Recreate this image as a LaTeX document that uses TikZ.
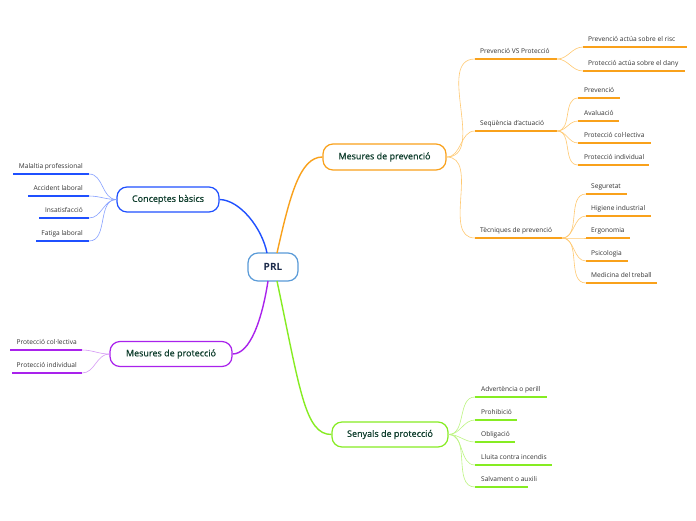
\documentclass[tikz,border=0pt]{standalone}
\usepackage{fontspec}
\setmainfont{Open Sans}
\newfontfamily\mainfnt{Open Sans}[FakeBold=0.6]
\definecolor{cor}{HTML}{F9A11B}
\definecolor{corl}{HTML}{FFC971}
\definecolor{cbl}{HTML}{1F50FF}
\definecolor{cbll}{HTML}{86A0FF}
\definecolor{cpu}{HTML}{A922EC}
\definecolor{cpul}{HTML}{D598F5}
\definecolor{cgr}{HTML}{86EC22}
\definecolor{cgrl}{HTML}{BDF582}
\definecolor{cprl}{HTML}{5A9BD8}
\definecolor{maintxt}{HTML}{0E3D2C}
\definecolor{prltxt}{HTML}{1B2A4A}
\definecolor{leaftxt}{HTML}{333333}
\newcommand\leafR[7]{%
  \coordinate (#1-s) at (#4,#3);
  \coordinate (#1-e) at (#5,#3);
  \node[leaf,anchor=base west] (#1) at (#2,#3-6) {#7};
  \draw[uline=#6] (#1-s) -- (#1-e);}
\newcommand\leafL[7]{%
  \coordinate (#1-s) at (#5,#3);
  \coordinate (#1-e) at (#4,#3);
  \node[leaf,anchor=base east] (#1) at (#2,#3-6) {#7};
  \draw[uline=#6] (#1-s) -- (#1-e);}
\begin{document}
\begin{tikzpicture}[x=1pt,y=-1pt,
  mainbox/.style={draw=#1, line width=1.2pt, rounded corners=10pt, fill=white,
    text=maintxt, font=\mainfnt\fontsize{9}{11}\selectfont, minimum height=25pt, inner sep=0pt},
  leaf/.style={inner sep=0pt, text=leaftxt, font=\fontsize{6.6}{8}\selectfont},
  uline/.style={draw=#1, line width=1.6pt},
  twig/.style={draw=#1, line width=0.6pt},
  branch/.style={draw=#1, line width=1.4pt}]
\useasboundingbox (0,0) rectangle (696,520);
\fill[white] (0,0) rectangle (696,520);

% main nodes
\node[mainbox=cprl, minimum width=50pt, minimum height=28pt, text=prltxt,
  font=\fontsize{10}{12}\selectfont\bfseries] (prl) at (273,267) {PRL};
\node[mainbox=cor, minimum width=123pt, minimum height=26pt] (mp) at (384.5,157) {Mesures de prevenció};
\node[mainbox=cbl, minimum width=102pt] (cb) at (168,199.5) {Conceptes bàsics};
\node[mainbox=cpu, minimum width=122pt] (mpr) at (171,354) {Mesures de protecció};
\node[mainbox=cgr, minimum width=116pt] (sp) at (390,434.5) {Senyals de protecció};

\coordinate (prl-tl) at (267,253);
\coordinate (prl-tr) at (277,253);
\coordinate (prl-bl) at (268,281);
\coordinate (prl-br) at (277,281);
\draw[branch=cbl] (prl-tl) .. controls (262,228) and (240,200) .. (cb.east);
\draw[branch=cor] (prl-tr) .. controls (290,195) and (300,157) .. (mp.west);
\draw[branch=cpu] (prl-bl) .. controls (262,320) and (250,354) .. (mpr.east);
\draw[branch=cgr] (prl-br) .. controls (300,390) and (305,434.5) .. (sp.west);

% orange leaves
\leafR{pvp}{480}{59}{475}{557}{cor}{Prevenció VS Protecció}
\leafR{seq}{480}{131}{475}{557}{cor}{Seqüència d'actuació}
\leafR{tec}{480}{238}{475}{562}{cor}{Tècniques de prevenció}
\foreach \c in {pvp,seq,tec}
  \draw[twig=corl] (mp.east) to[out=0,in=180] (\c-s);

\leafR{pa}{588}{47}{583}{687}{cor}{Prevenció actúa sobre el risc}
\leafR{pb}{588}{71}{583}{685}{cor}{Protecció actúa sobre el dany}
\foreach \c in {pa,pb}
  \draw[twig=corl] (pvp-e) to[out=0,in=180] (\c-s);

\leafR{sa}{584}{98}{578}{620}{cor}{Prevenció}
\leafR{sb}{584}{121}{578}{619}{cor}{Avaluació}
\leafR{sc}{584}{143}{578}{651}{cor}{Protecció col·lectiva}
\leafR{sd}{584}{165}{578}{649}{cor}{Protecció individual}
\foreach \c in {sa,sb,sc,sd}
  \draw[twig=corl] (seq-e) to[out=0,in=180] (\c-s);

\leafR{ta}{591}{194}{586}{627}{cor}{Seguretat}
\leafR{tb}{591}{216}{586}{651}{cor}{Higiene industrial}
\leafR{tc}{591}{238}{586}{630}{cor}{Ergonomia}
\leafR{td}{591}{261}{586}{628}{cor}{Psicologia}
\leafR{te}{591}{283}{586}{657}{cor}{Medicina del treball}
\foreach \c in {ta,tb,tc,td,te}
  \draw[twig=corl] (tec-e) to[out=0,in=180] (\c-s);

% blue leaves
\leafL{ca}{83}{174}{13}{89}{cbl}{Malaltia professional}
\leafL{cc}{83}{196}{28}{89}{cbl}{Accident laboral}
\leafL{cd}{83}{218}{39}{89}{cbl}{Insatisfacció}
\leafL{ce}{83}{241}{36}{89}{cbl}{Fatiga laboral}
\foreach \c in {ca,cc,cd,ce}
  \draw[twig=cbll] (cb.west) to[out=180,in=0] (\c-s);

% purple leaves
\leafL{ma}{77}{350}{10}{82}{cpu}{Protecció col·lectiva}
\leafL{mb}{77}{373}{12}{82}{cpu}{Protecció individual}
\foreach \c in {ma,mb}
  \draw[twig=cpul] (mpr.west) to[out=180,in=0] (\c-s);

% green leaves
\leafR{ga}{481}{397}{475}{547}{cgr}{Advertència o perill}
\leafR{gb}{481}{420}{475}{517}{cgr}{Prohibició}
\leafR{gc}{481}{442}{475}{515}{cgr}{Obligació}
\leafR{gd}{481}{465}{475}{552}{cgr}{Lluita contra incendis}
\leafR{ge}{481}{487}{475}{528}{cgr}{Salvament o auxili}
\foreach \c in {ga,gb,gc,gd,ge}
  \draw[twig=cgrl] (sp.east) to[out=0,in=180] (\c-s);
\end{tikzpicture}
\end{document}
